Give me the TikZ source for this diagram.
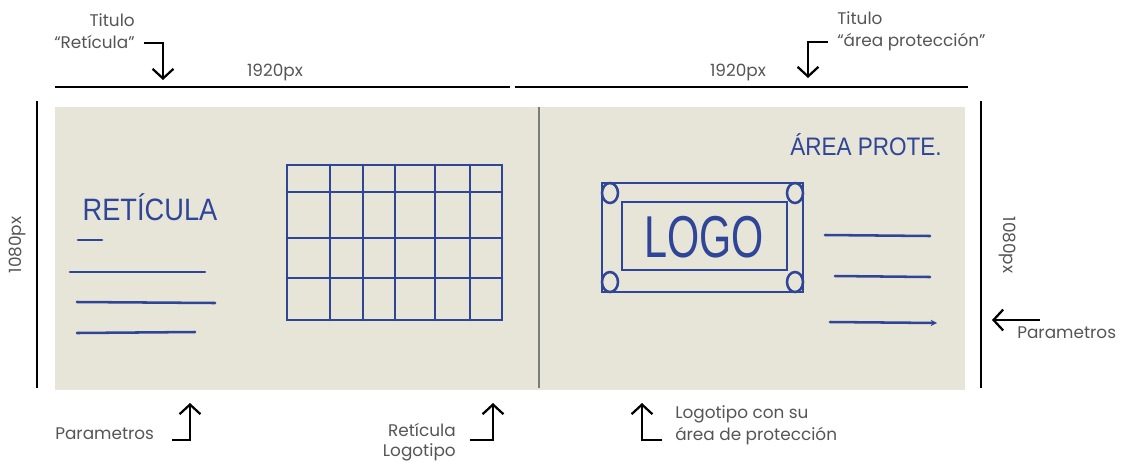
\documentclass[tikz,border=0pt]{standalone}
\usepackage{fontspec}
\setmainfont{Poppins}
\newfontfamily\handfont{Liberation Sans}
\usepackage{tikz}
\usetikzlibrary{arrows.meta}
\definecolor{ink600}  {HTML}{2F4597}
\definecolor{paper100}{HTML}{E7E4D8}
\definecolor{grey600} {HTML}{555555}
\definecolor{grey400} {HTML}{7C7C7C}
\tikzset{
  sheet/.style  ={fill=paper100, draw=none},
  fold/.style   ={draw=grey400, line width=0.8pt},
  ink/.style    ={draw=ink600, line width=1.8pt, line cap=round},
  dimline/.style={draw=black, line width=1.8pt},
  pointer/.style={draw=black, line width=1.6pt,
                  -{Straight Barb[length=2.4mm, width=5.2mm]}},
  lbl/.style    ={font=\fontsize{12}{15.5}\selectfont, text=grey600,
                  inner sep=0pt},
  hand/.style   ={font=\handfont, text=ink600, inner sep=0pt}
}
\begin{document}
\begin{tikzpicture}[x=0.025cm, y=-0.025cm]
\useasboundingbox (0,0) rectangle (1132,463);

% the two sheets
\fill[sheet] (55,107) rectangle (965,390);
\draw[fold] (539,107) -- (539,388);

% dimensions
\draw[dimline] (55,87) -- (510,87);
\draw[dimline] (515,87) -- (968,87);
\draw[dimline] (37,101) -- (37,388);
\draw[dimline] (981,101) -- (981,388);
\node[lbl] (wL) at (275,72) {1920px};
\node[lbl] (wR) at (738,72) {1920px};
\node[lbl, rotate=90]  (hL) at (18,245) {1080px};
\node[lbl, rotate=-90] (hR) at (1007,245) {1080px};

% left sheet: title, text lines, grid
\node[hand, font=\handfont\fontsize{22}{22}\selectfont, xscale=0.88]
  (retTitle) at (150,207) {RETÍCULA};
\draw[ink] (78,240) -- (102,240);
\draw[ink] (70,272) -- (205,272);
\draw[ink] (77,302) -- (215,303);
\draw[ink] (77,333) -- (195,332);

\draw[ink] (287,165) rectangle (502,320);
\foreach \gx in {330,363,395,435,470}
  \draw[ink] (\gx,165) -- (\gx,320);
\foreach \gy in {192,238,278}
  \draw[ink] (287,\gy) -- (502,\gy);

% right sheet: title, logo with protection area, text lines
\node[hand, font=\handfont\fontsize{18}{18}\selectfont, xscale=0.89]
  (areaTitle) at (866,145) {ÁREA PROTE.};
\draw[ink] (602,183) rectangle (803,292);
\draw[ink] (622,202) rectangle (787,270);
\foreach \cx/\cy in {610/193, 795/193, 610/282, 795/282}
  \draw[ink] (\cx,\cy) ellipse [x radius=8, y radius=10];
\node[hand, font=\handfont\fontsize{42}{42}\selectfont, xscale=0.7]
  (logo) at (704,237) {LOGO};
\draw[ink] (825,235) -- (930,236);
\draw[ink] (835,276) -- (930,277);
\draw[ink, -{Stealth[length=1.6mm, width=1.6mm]}] (830,322) -- (937,323);

% callouts
\node[lbl, align=right, anchor=east] (tRet) at (135,31)
  {Titulo\\“Retícula”};
\coordinate (tRetFoot) at (144,43);
\coordinate (tRetTip)  at (163,80);
\draw[pointer] (tRetFoot) -| (tRetTip);

\node[lbl, align=left, anchor=west] (tArea) at (837,31)
  {Titulo\\“área protección”};
\coordinate (tAreaFoot) at (828,42);
\coordinate (tAreaTip)  at (808,78);
\draw[pointer] (tAreaFoot) -| (tAreaTip);

\node[lbl, anchor=west] (pRight) at (1017,333) {Parametros};
\coordinate (pRightTail) at (1040,320);
\coordinate (pRightTip)  at (992,320);
\draw[pointer] (pRightTail) -- (pRightTip);

\node[lbl, anchor=west] (pLeft) at (55,434) {Parametros};
\coordinate (pLeftFoot) at (172,440);
\coordinate (pLeftTip)  at (190,403);
\draw[pointer] (pLeftFoot) -| (pLeftTip);

\node[lbl, align=right, anchor=east,
      font=\fontsize{12}{14.5}\selectfont] (retLogo) at (456,442)
  {Retícula\\Logotipo};
\coordinate (retLogoFoot) at (470,440);
\coordinate (retLogoTip)  at (493,403);
\draw[pointer] (retLogoFoot) -| (retLogoTip);

\node[lbl, align=left, anchor=west] (logoArea) at (675,425)
  {Logotipo con su\\área de protección};
\coordinate (logoAreaFoot) at (662,440);
\coordinate (logoAreaTip)  at (642,403);
\draw[pointer] (logoAreaFoot) -| (logoAreaTip);
\end{tikzpicture}
\end{document}
